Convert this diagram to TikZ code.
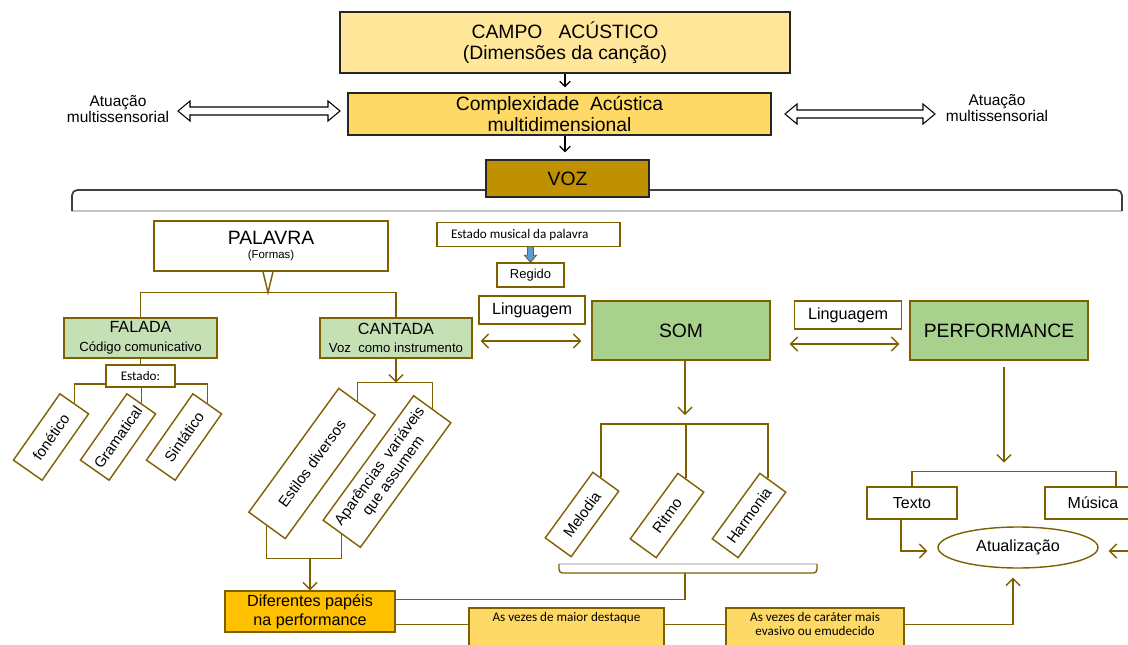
\documentclass[tikz,border=0pt]{standalone}
\usepackage{fontspec}
\setmainfont{Liberation Sans}
\newfontfamily\calibfont{Carlito}
\usetikzlibrary{arrows.meta,calc,backgrounds,shapes.geometric}

\definecolor{brn}{RGB}{127,96,0}
\definecolor{campo}{RGB}{255,230,153}
\definecolor{compl}{RGB}{255,217,102}
\definecolor{vozc}{RGB}{191,144,0}
\definecolor{verde}{RGB}{197,224,180}
\definecolor{verdeb}{RGB}{169,209,142}
\definecolor{ouro}{RGB}{255,192,0}
\definecolor{amar}{RGB}{255,217,102}
\definecolor{blu}{RGB}{91,155,213}

\begin{document}
\begin{tikzpicture}[x=0.02cm,y=-0.02cm,
  bx/.style={draw=brn,line width=0.8pt,align=center,inner sep=1pt,font=\fontsize{9}{10.5}\selectfont},
  topbx/.style={draw=black!85,line width=0.8pt,align=center,inner sep=1pt,font=\fontsize{11}{11.8}\selectfont},
  tilt/.style={bx,fill=white,rotate=54,font=\fontsize{8.5}{9.6}\selectfont},
  cbr/.style={font=\calibfont\fontsize{7.5}{9}\selectfont},
  ln/.style={draw=brn,line width=0.8pt},
  tip/.style={ln,-{Straight Barb[length=4pt,width=8pt]}},
  dbl/.style={ln,{Straight Barb[length=4pt,width=8pt]}-{Straight Barb[length=4pt,width=8pt]}},
  ktip/.style={draw=black,line width=0.7pt,-{Straight Barb[length=3pt,width=6pt]}},
  hollow/.style={draw=black,line width=0.6pt,fill=white}]

\useasboundingbox (0,0) rectangle (1128,645);

% upper chain
\node[topbx,fill=campo,minimum width=9cm,minimum height=1.22cm] (campo) at (565,42.5)
  {CAMPO\ \ \ ACÚSTICO\\(Dimensões da canção)};
\node[topbx,fill=compl,minimum width=8.46cm,minimum height=0.84cm] (compl) at (559.5,114)
  {Complexidade\ \ Acústica\\multidimensional};
\node[topbx,fill=vozc,minimum width=3.26cm,minimum height=0.74cm] (voz) at (567.5,178.5) {VOZ};

\node[align=center,font=\fontsize{8.8}{9.6}\selectfont] (atuL) at (118,109) {Atuação\\multissensorial};
\node[align=center,font=\fontsize{8.8}{9.6}\selectfont] (atuR) at (997,108) {Atuação\\multissensorial};

% word branch
\node[bx,fill=white,minimum width=4.68cm,minimum height=1cm] (palavra) at (271,246)
  {{\fontsize{11}{12}\selectfont PALAVRA}\\[-2pt]{\fontsize{6.5}{7}\selectfont (Formas)}};
\node[bx,fill=verde,minimum width=3.06cm,minimum height=0.8cm] (falada) at (140.5,338)
  {{\fontsize{9.2}{10}\selectfont FALADA}\\{\fontsize{7.5}{8.5}\selectfont Código comunicativo}};
\node[bx,fill=verde,minimum width=3.04cm,minimum height=0.8cm] (cantada) at (396,338)
  {{\fontsize{9.2}{10}\selectfont CANTADA}\\{\fontsize{7.5}{8.5}\selectfont Voz\ \ como instrumento}};
\node[bx,cbr,fill=white,minimum width=1.38cm,minimum height=0.44cm] (estado) at (140.5,376) {Estado:};

\node[tilt,rotate=1,minimum width=1.62cm,minimum height=0.7cm] (fon) at (51,437) {fonético};
\node[tilt,rotate=1,minimum width=1.62cm,minimum height=0.7cm] (gram) at (118,437) {Gramatical};
\node[tilt,rotate=1,minimum width=1.62cm,minimum height=0.7cm] (sint) at (184,437) {Sintático};

\node[tilt,minimum width=3.06cm,minimum height=0.9cm] (estilos) at (312,463.5) {Estilos diversos};
\node[tilt,minimum width=3.08cm,minimum height=0.92cm] (aparen) at (387,471.5)
  {Aparências\ \ variáveis\\que assumem};

\node[bx,fill=ouro,minimum width=3.4cm,minimum height=0.82cm,font=\fontsize{9.2}{10.6}\selectfont] (difer) at (310,611.5)
  {Diferentes papéis\\na performance};
\node[bx,fill=amar,minimum width=3.9cm,minimum height=1.04cm,inner sep=0pt] (vez1) at (566.5,634)
  {\parbox[c][1cm][t]{3.8cm}{\vspace*{2pt}\centering\calibfont\fontsize{7.5}{8}\selectfont As vezes de maior destaque}};
\node[bx,fill=amar,minimum width=3.56cm,minimum height=1.04cm,inner sep=0pt] (vez2) at (815,634)
  {\parbox[c][1cm][t]{3.4cm}{\vspace*{2pt}\centering\calibfont\fontsize{7.5}{8}\selectfont As vezes de caráter mais\\evasivo ou emudecido}};

% sound and performance
\node[bx,cbr,fill=white,minimum width=3.66cm,minimum height=0.48cm] (estmus) at (528.5,234.5) {\hspace*{-10pt}Estado musical da palavra};
\node[bx,fill=white,minimum width=1.34cm,minimum height=0.48cm,font=\fontsize{7.4}{8}\selectfont] (regido) at (530.5,275) {Regido};
\node[bx,fill=white,minimum width=2.12cm,minimum height=0.56cm,font=\fontsize{9.2}{10}\selectfont] (ling1) at (532,310) {Linguagem};
\node[bx,fill=verdeb,minimum width=3.56cm,minimum height=1.18cm,font=\fontsize{11}{12}\selectfont] (som) at (681,330.5) {SOM};
\node[bx,fill=white,minimum width=2.14cm,minimum height=0.56cm,font=\fontsize{9.2}{10}\selectfont] (ling2) at (848,315) {Linguagem};
\node[bx,fill=verdeb,minimum width=3.56cm,minimum height=1.18cm,font=\fontsize{11}{12}\selectfont] (perf) at (999,330.5) {PERFORMANCE};

\node[tilt,minimum width=1.62cm,minimum height=0.64cm] (mel) at (582,514.5) {Melodia};
\node[tilt,minimum width=1.62cm,minimum height=0.64cm] (rit) at (667,515.5) {Ritmo};
\node[tilt,minimum width=1.62cm,minimum height=0.64cm] (harm) at (749,515.5) {Harmonia};

\node[bx,fill=white,minimum width=1.8cm,minimum height=0.64cm,font=\fontsize{9.1}{10}\selectfont] (texto) at (912,503) {Texto};
\node[bx,fill=white,minimum width=1.92cm,minimum height=0.64cm,font=\fontsize{9.1}{10}\selectfont] (musica) at (1093,503) {Música};
\node[bx,ellipse,fill=white,minimum width=3.2cm,minimum height=0.82cm,font=\fontsize{9.2}{10}\selectfont] (atual) at (1018,547.5) {Atualização};

\begin{scope}[on background layer]
  \fill[white] (0,0) rectangle (1128,645);

  % arrows of the upper chain
  \draw[ktip] (campo.south) -- ($(campo.south |- compl.north)+(0,-5)$);
  \draw[ktip] (campo.south |- compl.south) -- ($(campo.south |- voz.north)+(0,-7)$);

  % sensory double arrows
  \draw[hollow] (178,111) -- (190,101) -- (190,107) -- (328,107) -- (328,101) -- (340,111)
    -- (328,121) -- (328,115) -- (190,115) -- (190,121) -- cycle;
  \draw[hollow] (785,114) -- (797,104) -- (797,110) -- (923,110) -- (923,104) -- (935,114)
    -- (923,124) -- (923,118) -- (797,118) -- (797,124) -- cycle;

  % bracket under the voice
  \draw[gray!45,line width=0.8pt] (72,211) -- (1122,211);
  \draw[black!75,line width=1pt,rounded corners=3pt] (72,211) -- (72,190) -- (1122,190) -- (1122,211);

  % word tree
  \coordinate (pv) at ($(palavra.south)+(-3,21)$);
  \draw[ln] ($(palavra.south)+(-8,0)$) -- (pv) -- ($(palavra.south)+(2,0)$);
  \draw[ln] (falada.north) |- (pv) -| (cantada.north);
  \draw[ln] (falada.south) -- (estado.north);
  \coordinate (eh) at (0,384);
  \draw[ln] (fon.east) |- (estado.west |- eh);
  \draw[ln] (estado.east |- eh) -| (sint.east);
  \draw[ln] (gram.east) -- (gram.east |- estado.south);

  \coordinate (ch) at ($(cantada.south)+(0,24)$);
  \draw[tip] (cantada.south) -- (ch);
  \draw[ln] (estilos.east) |- (ch) -| (aparen.east);
  \coordinate (bh) at ($(difer.north)+(0,-32)$);
  \draw[ln] (estilos.west) |- (bh) -| (aparen.west);
  \draw[tip] (bh) -- (difer.north);

  % musical state
  \filldraw[fill=blu,draw=brn,line width=0.5pt] (regido.north) -- ++(-6,-7) -- ++(3,0) -- ++(0,-9)
    -- ++(6,0) -- ++(0,9) -- ++(3,0) -- cycle;

  % language arrows
  \draw[dbl] ($(cantada.east)+(8,3)$) -- ($(cantada.east -| som.west)+(-10,3)$);
  \draw[dbl] ($(som.east)+(19,13.5)$) -- ($(som.east -| perf.west)+(-10,13.5)$);

  % sound tree
  \coordinate (sh) at ($(som.south)+(4,63.5)$);
  \draw[tip] (som.south -| sh) -- ($(sh)+(0,-9)$);
  \coordinate (mpt) at ($(mel.north east)!0.3!(mel.south east)$);
  \coordinate (rpt) at ($(rit.north east)!0.3!(rit.south east)$);
  \coordinate (hpt) at ($(harm.north east)!0.3!(harm.south east)$);
  \draw[ln] (mpt) |- (sh) -| (hpt);
  \draw[ln] (rpt) -- (rpt |- sh);

  % bracket under the sound tree
  \draw[gray!35,line width=0.8pt] (559,564) -- (817,564);
  \draw[ln,rounded corners=2pt] (559,564) -- (559,573) -- (817,573) -- (817,564);
  \coordinate (bt) at (685,573);
  \draw[ln] ($(difer.north east)+(0,9)$) -| (bt);

  % roles in performance
  \coordinate (lowy) at ($(difer.south east)+(0,-8)$);
  \draw[ln] (lowy) -- (lowy -| vez1.west);
  \draw[ln] (lowy -| vez1.east) -- (lowy -| vez2.west);
  \coordinate (atip) at ($(atual.south)+(-5,9)$);
  \draw[tip] (lowy -| vez2.east) -| (atip);

  % performance tree
  \coordinate (ph) at ($(perf.south)+(5,111)$);
  \draw[tip] ($(perf.south)+(5,6)$) -- ($(ph)+(0,-9)$);
  \coordinate (mh) at ($(ph)+(112,0)$);
  \draw[ln] (texto.north) |- (mh) -- (mh |- musica.north);
  \draw[tip] ($(texto.south)+(-11,0)$) |- ($(atual.west)+(-10,3.5)$);
  \draw[tip] ($(musica.south)+(42,0)$) |- ($(atual.east)+(10,3.5)$);
\end{scope}
\end{tikzpicture}
\end{document}
